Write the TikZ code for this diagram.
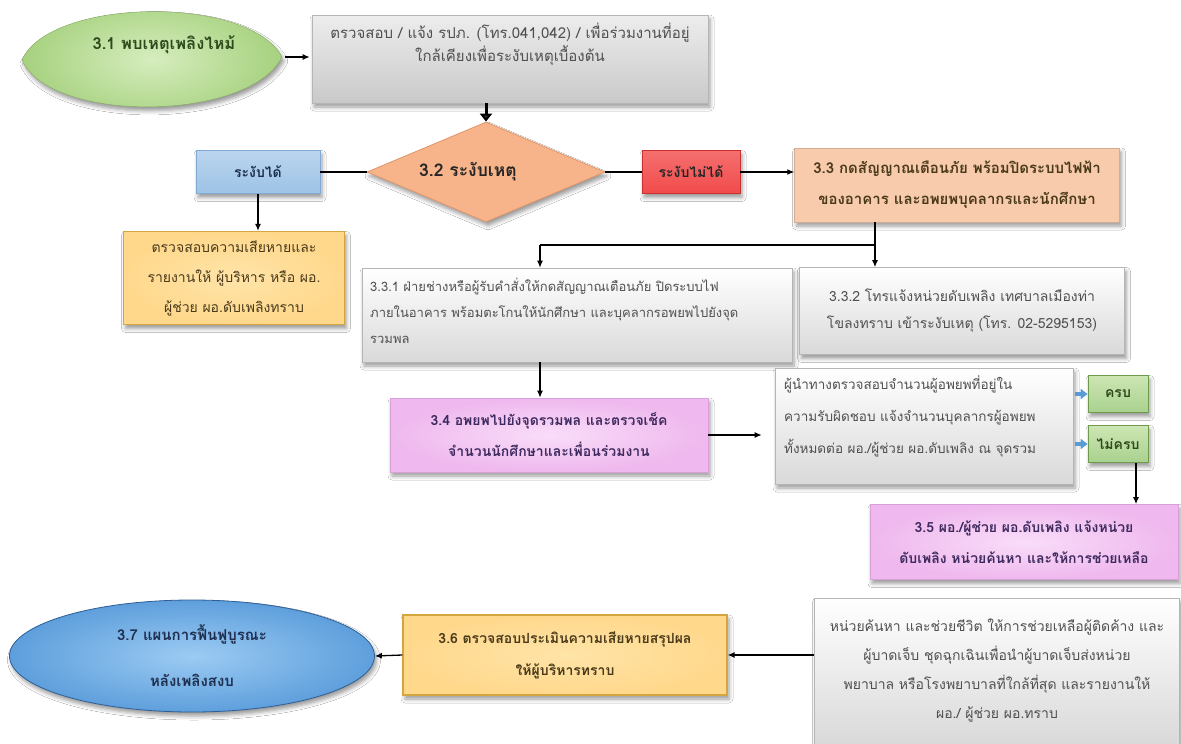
\documentclass[tikz,border=0pt]{standalone}
\usepackage{fontspec}
\setmainfont[Script=Thai]{Loma}
\usetikzlibrary{shapes.geometric,arrows.meta,shadows.blur}
\definecolor{cgtop}{HTML}{EDEDED}
\definecolor{cgbot}{HTML}{C9C9C9}
\definecolor{cgdraw}{HTML}{B5B5B5}
\definecolor{cgtext}{HTML}{505050}
\definecolor{cpeach}{HTML}{F7B48A}
\definecolor{cpeachd}{HTML}{E0956A}
\definecolor{cblue}{HTML}{9DC3E6}
\definecolor{cblued}{HTML}{7FAAD6}
\definecolor{cred}{HTML}{F24B4B}
\definecolor{credd}{HTML}{C83030}
\definecolor{ctan}{HTML}{F8CBAD}
\definecolor{corange}{HTML}{FFD88C}
\definecolor{corangel}{HTML}{FFE4A8}
\definecolor{corangedraw}{HTML}{D4A640}
\definecolor{cpink}{HTML}{EFB8EE}
\definecolor{cpinkl}{HTML}{F9DDF9}
\definecolor{cpinkd}{HTML}{D8A0D8}
\definecolor{cgreen}{HTML}{A9D18E}
\definecolor{cgreenl}{HTML}{CDE6B4}
\definecolor{cgreend}{HTML}{6E9A4E}
\definecolor{clens}{HTML}{A6D17E}
\definecolor{clensl}{HTML}{D6EDBE}
\definecolor{cell}{HTML}{5E9FDC}
\definecolor{celll}{HTML}{9CCBF3}
\definecolor{celld}{HTML}{2F5F96}
\definecolor{carrblue}{HTML}{5B9BD5}
\definecolor{cdgreen}{HTML}{2D4A1C}
\definecolor{cpurple}{HTML}{3E2A5E}
\definecolor{cbrown}{HTML}{4A3A1A}
\definecolor{cnavy}{HTML}{1F2F50}
\begin{document}
\begin{tikzpicture}[x=1pt,y=-1pt,
  box/.style={inner sep=0pt, align=center},
  shad/.style={blur shadow={shadow xshift=2pt, shadow yshift=-4pt, shadow blur radius=4pt, shadow opacity=40}},
  graybox/.style={box, shad, top color=cgtop, bottom color=cgbot, draw=cgdraw, line width=0.6pt},
  whitebox/.style={box, shad, top color=white, bottom color=cgbot!70, draw=cgdraw, line width=0.6pt},
  orangebox/.style={box, shad, inner color=corangel, outer color=corange, draw=corangedraw, line width=1.2pt},
  pinkbox/.style={box, shad, inner color=cpinkl, outer color=cpink, draw=cpinkd, line width=0.6pt},
  greenbox/.style={box, shad, top color=cgreenl, bottom color=cgreen, draw=cgreend, line width=0.8pt},
  txt/.style={inner sep=0pt, align=center},
  fnt/.style={font=\fontsize{14}{#1}\selectfont},
  bfnt/.style={font=\fontsize{14}{#1}\selectfont\bfseries},
  arr/.style={-{Latex[length=7pt,width=6pt]}, line width=1.3pt},
  ln/.style={line width=1.3pt},
  barr/.style={-{Triangle[length=7pt,width=10pt]}, line width=4pt, draw=carrblue}
]
\useasboundingbox[fill=white] (0,0) rectangle (1181,744);

% 3.1 lens
\shade[shad, inner color=clensl, outer color=clens, draw=clens!80!black, line width=0.4pt]
  (22,60) .. controls (50,-3) and (250,-5) .. (282,57) .. controls (250,122) and (50,124) .. (22,60);
\node[ellipse, minimum width=260, minimum height=96, inner sep=0pt] (n31) at (152,60) {};
\node[txt, font=\fontsize{16.5}{20}\selectfont\bfseries, text=cdgreen] (n31t) at (164,45) {3.1 พบเหตุเพลิงไหม้};

% gray box 1
\node[graybox, minimum width=396, minimum height=88] (g1) at (510,59) {};
\node[txt, font=\fontsize{15}{23}\selectfont, text=cgtext] (g1t) at (510,44) {ตรวจสอบ / แจ้ง รปภ. (โทร.041,042) / เพื่อร่วมงานที่อยู่\\ใกล้เคียงเพื่อระงับเหตุเบื้องต้น};

% diamond 3.2
\node[diamond, aspect=2.4, minimum width=238, minimum height=100, inner sep=0pt, shad,
  fill=cpeach, draw=cpeachd, line width=0.8pt, font=\fontsize{17.5}{20}\selectfont\bfseries, text=black!85] (d32) at (486,172) {3.2 ระงับเหตุ\hspace*{36pt}};

% ระงับได้ / ระงับไม่ได้
\node[box, shad, top color=cblue!70!white, bottom color=cblue, draw=cblued, line width=0.6pt,
  minimum width=124, minimum height=43, bfnt=20, text=cnavy] (bok) at (258,172) {ระงับได้};
\node[box, shad, top color=cred!80!white, bottom color=cred, draw=credd, line width=0.6pt,
  minimum width=98, minimum height=43, bfnt=20, text=black!85] (bno) at (691,172) {ระงับไม่ได้};

% 3.3
\node[box, shad, fill=ctan, draw=ctan!85!black, line width=0.4pt, minimum width=325, minimum height=74,
  font=\fontsize{15}{31}\selectfont\bfseries, text=cbrown] (t33) at (957,185) {3.3 กดสัญญาณเตือนภัย พร้อมปิดระบบไฟฟ้า\\ของอาคาร และอพยพบุคลากรและนักศึกษา};

% orange box left
\node[orangebox, minimum width=221, minimum height=93, fnt=30, text=cbrown] (o7) at (234,278)
  {ตรวจสอบความเสียหายและ\\รายงานให้ ผู้บริหาร หรือ ผอ.\\ผู้ช่วย ผอ.ดับเพลิงทราบ};

% 3.3.1
\node[whitebox, minimum width=430, minimum height=94] (s331) at (577,315) {};
\node[txt, align=left, anchor=west, font=\fontsize{13}{26}\selectfont, text=cgtext] (s331t) at (370,311)
  {3.3.1 ฝ่ายช่างหรือผู้รับคำสั่งให้กดสัญญาณเตือนภัย ปิดระบบไฟ\\ภายในอาคาร พร้อมตะโกนให้นักศึกษา และบุคลากรอพยพไปยังจุด\\รวมพล};

% 3.3.2
\node[whitebox, minimum width=325, minimum height=87, fnt=27, text=cgtext] (s332) at (962,311)
  {3.3.2 โทรแจ้งหน่วยดับเพลิง เทศบาลเมืองท่า\\โขลงทราบ เข้าระงับเหตุ  (โทร. 02-5295153)};

% 3.4
\node[pinkbox, minimum width=318, minimum height=74, bfnt=31, text=cpurple] (p34) at (549,435)
  {3.4 อพยพไปยังจุดรวมพล และตรวจเช็ค\\จำนวนนักศึกษาและเพื่อนร่วมงาน};

% gray box leaders
\node[whitebox, minimum width=298, minimum height=116] (g11) at (924,426) {};
\node[txt, align=left, anchor=west, font=\fontsize{13.5}{32}\selectfont, text=cgtext] (g11t) at (784,416)
  {ผู้นำทางตรวจสอบจำนวนผู้อพยพที่อยู่ใน\\ความรับผิดชอบ แจ้งจำนวนบุคลากรผู้อพยพ\\ทั้งหมดต่อ ผอ./ผู้ช่วย ผอ.ดับเพลิง ณ จุดรวม};

% ครบ / ไม่ครบ
\node[greenbox, minimum width=60, minimum height=37, bfnt=20, text=cdgreen] (ok) at (1118,394) {ครบ};
\node[greenbox, minimum width=60, minimum height=37, bfnt=20, text=cdgreen] (nok) at (1118,444) {ไม่ครบ};

% 3.5
\node[pinkbox, minimum width=308, minimum height=75, bfnt=31, text=cpurple] (p35) at (1024,542)
  {3.5 ผอ./ผู้ช่วย ผอ.ดับเพลิง แจ้งหน่วย\\ดับเพลิง หน่วยค้นหา และให้การช่วยเหลือ};

% bottom right gray
\node[whitebox, minimum width=365, minimum height=146, fnt=29, text=cgtext] (br) at (997,671)
  {หน่วยค้นหา และช่วยชีวิต ให้การช่วยเหลือผู้ติดค้าง และ\\ผู้บาดเจ็บ ชุดฉุกเฉินเพื่อนำผู้บาดเจ็บส่งหน่วย\\พยาบาล หรือโรงพยาบาลที่ใกล้ที่สุด และรายงานให้\\ผอ./ ผู้ช่วย ผอ.ทราบ};

% 3.6
\node[orangebox, minimum width=324, minimum height=80, bfnt=32, text=cbrown] (o36) at (565,655)
  {3.6 ตรวจสอบประเมินความเสียหายสรุปผล\\ให้ผู้บริหารทราบ};

% 3.7
\node[ellipse, shad, inner sep=0pt, align=center, minimum width=365, minimum height=112, inner color=celll, outer color=cell,
  draw=celld, line width=0.8pt, font=\fontsize{15}{46}\selectfont\bfseries, text=cnavy] (e37) at (192,656) {3.7 แผนการฟื้นฟูบูรณะ\\หลังเพลิงสงบ};

% junctions
\coordinate (j1) at (875,245);
\coordinate (j2) at (540,245);
\coordinate (j3) at (1136,444);

% connectors
\draw[arr, shorten <=3pt, shorten >=2pt] (n31.east |- 0,57) -- (g1.west |- 0,57);
\draw[-{Triangle[length=8pt,width=12pt]}, line width=3pt] (g1.south -| d32.north) -- (d32.north);
\draw[ln] (bok.east) -- (d32.west);
\draw[ln] (d32.east) -- (bno.west);
\draw[arr] (bno.east) -- (t33.west |- bno.east);
\draw[arr] (bok.south) -- (o7.north -| bok.south);
\draw[ln] (t33.south -| j1) -- (j1) -- (j2);
\draw[arr] (j2) -- (s331.north -| j2);
\draw[arr] (j1) -- (s332.north -| j1);
\draw[arr] (s331.south -| j2) -- (p34.north -| j2);
\draw[arr, shorten >=13pt] (p34.east) -- (g11.west |- p34.east);
\draw[barr, shorten <=2pt] (g11.east |- ok.west) -- (ok.west);
\draw[barr, shorten <=2pt] (g11.east |- nok.west) -- (nok.west);
\draw[arr] (nok.south -| j3) -- (p35.north -| j3);
\draw[arr] (br.west |- o36.east) -- (o36.east);
\draw[arr] (o36.west) -- (e37.east);
\end{tikzpicture}
\end{document}
